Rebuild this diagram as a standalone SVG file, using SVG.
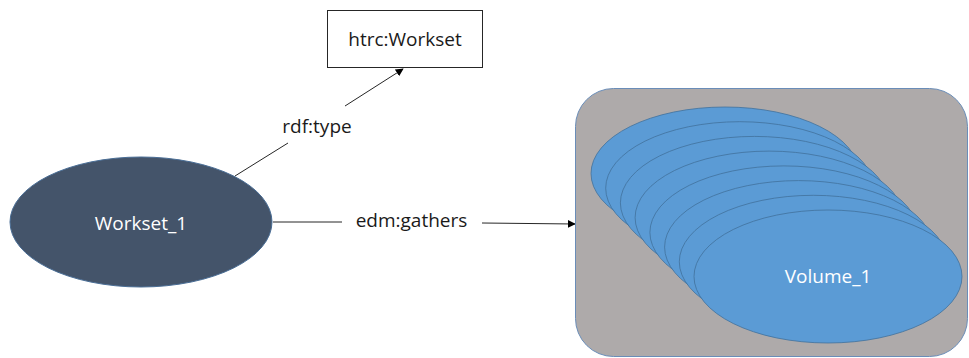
<svg xmlns="http://www.w3.org/2000/svg" width="969" height="358" viewBox="0 0 969 358">
  <defs>
    <style>
      .lbl { font-family: "Open Sans", "Liberation Sans", sans-serif; font-size: 19px; fill: #1a1a1a; text-anchor: middle; }
      .wlbl { font-family: "Open Sans", "Liberation Sans", sans-serif; font-size: 19px; fill: #ffffff; text-anchor: middle; }
      .edge { stroke: #262626; stroke-width: 1; fill: none; }
      .vol { fill: #5B9BD5; stroke: #41719C; stroke-width: 0.8; }
    </style>
    <marker id="arrow" viewBox="0 0 10 10" refX="9" refY="5" markerWidth="8" markerHeight="8" markerUnits="userSpaceOnUse" orient="auto">
      <path d="M0,0 L10,5 L0,10 Z" fill="#000"/>
    </marker>
  </defs>

  <g id="connectors">
    <line class="edge" x1="235" y1="176" x2="288" y2="143"/>
    <line class="edge" x1="345" y1="106" x2="403" y2="69" marker-end="url(#arrow)"/>
    <text class="lbl" x="317" y="133">rdf:type</text>
    <line class="edge" x1="273" y1="222" x2="342" y2="222"/>
    <line class="edge" x1="482" y1="223" x2="575" y2="224" marker-end="url(#arrow)"/>
    <text class="lbl" x="411.5" y="227">edm:gathers</text>
  </g>

  <g id="htrc-workset">
    <rect x="327.5" y="10.5" width="155" height="57" fill="#ffffff" stroke="#262626" stroke-width="1"/>
    <text class="lbl" x="405" y="46">htrc:Workset</text>
  </g>

  <g id="workset-1">
    <ellipse cx="141" cy="222" rx="131" ry="65" fill="#44546A" stroke="#4A6E96" stroke-width="1"/>
    <text class="wlbl" x="141" y="230">Workset_1</text>
  </g>

  <g id="volumes">
    <rect x="575.5" y="88.5" width="392" height="268" rx="38" ry="38" fill="#AEAAAA" stroke="#6A8DB8" stroke-width="1"/>
    <ellipse class="vol" cx="725" cy="173.5" rx="134" ry="66.5"/>
    <ellipse class="vol" cx="739.7" cy="188.2" rx="134" ry="66.5"/>
    <ellipse class="vol" cx="754.4" cy="202.9" rx="134" ry="66.5"/>
    <ellipse class="vol" cx="769.1" cy="217.6" rx="134" ry="66.5"/>
    <ellipse class="vol" cx="783.9" cy="232.4" rx="134" ry="66.5"/>
    <ellipse class="vol" cx="798.6" cy="247.1" rx="134" ry="66.5"/>
    <ellipse class="vol" cx="813.3" cy="261.8" rx="134" ry="66.5"/>
    <ellipse class="vol" cx="828" cy="276.5" rx="134" ry="66.5"/>
    <text class="wlbl" x="828" y="283">Volume_1</text>
  </g>
</svg>
